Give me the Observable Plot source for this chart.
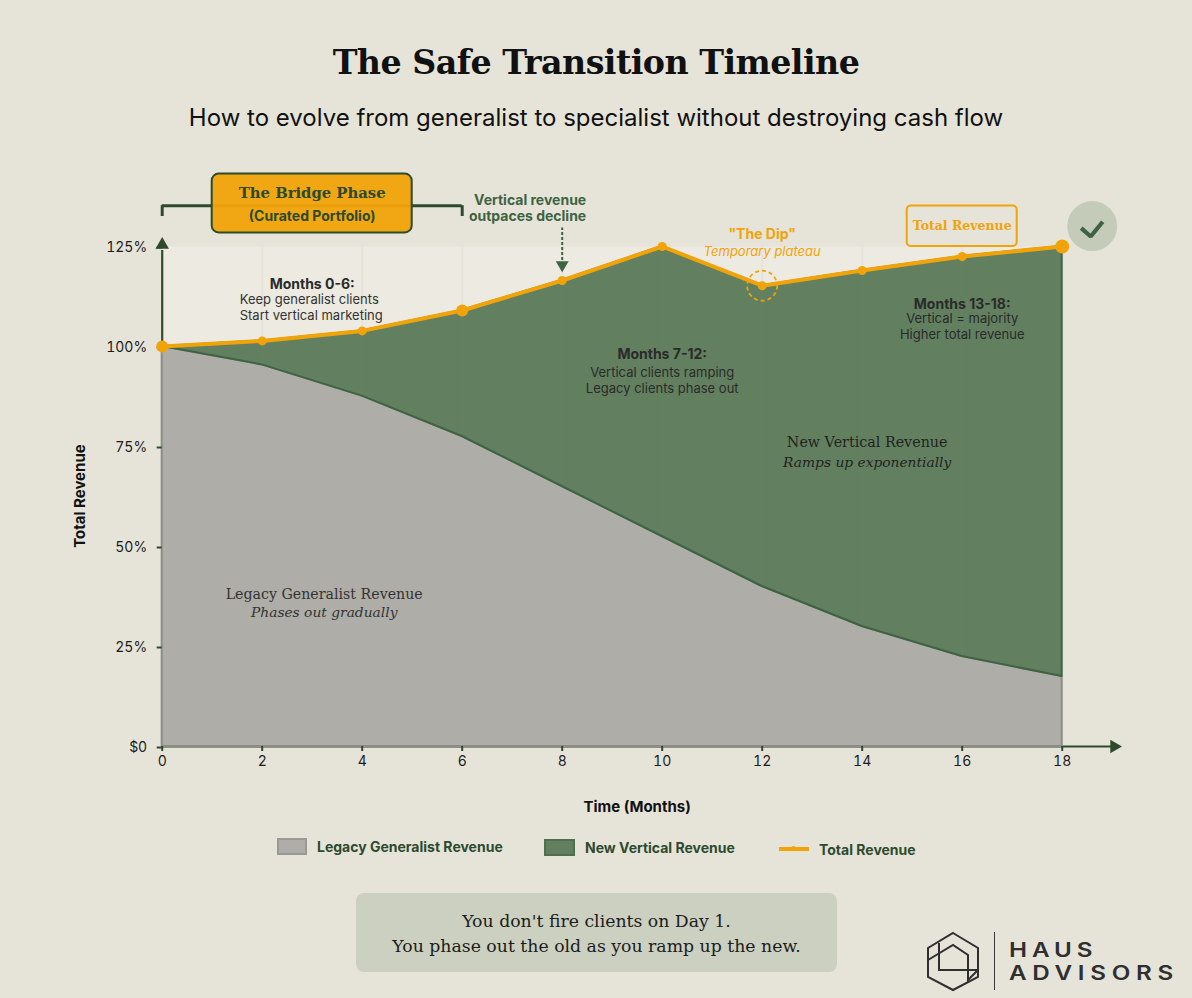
<!DOCTYPE html>
<html>
<head>
<meta charset="utf-8">
<script src="https://cdn.jsdelivr.net/npm/d3@7"></script>
<script src="https://cdn.jsdelivr.net/npm/@observablehq/plot@0.6"></script>
<style>
  html,body{margin:0;padding:0;background:#E6E4D9;}
  #page{position:relative;width:1192px;height:998px;overflow:hidden;font-family:Inter,sans-serif;}
  #page>*{position:absolute;}
  .abs{position:absolute;white-space:nowrap;}
  #title{left:0;width:1192px;top:39px;text-align:center;font:700 33.3px/48px "DejaVu Serif",serif;color:#111;letter-spacing:-.55px;}
  #subtitle{left:0;width:1192px;top:102px;text-align:center;font:400 24px/32px Inter,sans-serif;color:#111;}
  #chart{left:0;top:150px;}
  .swatch{box-sizing:border-box;border-width:2px;border-style:solid;}
  .lg{font:700 14px/16px Inter,sans-serif;color:#2D4A2D;}
  #callout{left:356px;top:893px;width:481px;height:79px;border-radius:8px;background:#CCD0C0;text-align:center;font:400 17.3px/25px "DejaVu Serif",serif;color:#1c1c1c;padding-top:15.5px;box-sizing:border-box;}
  .brand{font:600 19.5px/18px Inter,sans-serif;color:#2f2f2f;transform:scaleX(1.24);transform-origin:left center;}
</style>
</head>
<body>
<div id="page">
  <div id="title"></div>
  <div id="subtitle"></div>
  <div id="chart"></div>
  <div id="legend"></div>
  <div id="callout"></div>
  <svg id="logo" width="70" height="70" viewBox="920 926 70 70" style="left:920px;top:926px" fill="none" stroke="#2f2f2f" stroke-width="2">
    <path d="M953 933L978 948V977L953 990L928 977V948Z"/>
    <path d="M928 960L953 945L968 955V980L978 970"/>
    <path d="M939 943V970H978"/>
  </svg>
  <div class="abs" style="left:993.5px;top:932px;width:1.5px;height:58px;background:#3a3a3a"></div>
  <div class="abs brand" style="left:1009px;top:940.5px;letter-spacing:4px">HAUS</div>
  <div class="abs brand" style="left:1009px;top:964px;letter-spacing:4.6px">ADVISORS</div>
</div>
<script>
const titleText = "The Safe Transition Timeline";
const subtitleText = "How to evolve from generalist to specialist without destroying cash flow";
const months = [0, 2, 4, 6, 8, 10, 12, 14, 16, 18];
const legacyRevenue = [100, 95.4, 87.6, 77.5, 65, 52.5, 40, 30, 22.5, 17.5];
const totalRevenue = [100, 101.4, 103.9, 109, 116.5, 125, 115.2, 119, 122.5, 125];
const yTicks = [0, 25, 50, 75, 100, 125];
const seriesNames = ["Legacy Generalist Revenue", "New Vertical Revenue", "Total Revenue"];
const calloutLines = ["You don't fire clients on Day 1.", "You phase out the old as you ramp up the new."];

const BG = "#E6E4D9", PANEL = "#ECEAE1", GREEN = "#62805F", GREEN_D = "#3E6343",
      DARK = "#2D4A2D", GREY = "#AFADA7", GREY_D = "#8C8B88", ORANGE = "#F1A30A", INK = "#2a2a2a";
const SERIF = '"DejaVu Serif",serif', SANS = "Inter,sans-serif";

const rows = months.map((m, i) => ({month: m, legacy: legacyRevenue[i], total: totalRevenue[i]}));
const checkMark = [{x: 18.38, y: 129.6}, {x: 18.57, y: 127.5}, {x: 18.81, y: 131.2}];

document.getElementById("title").textContent = titleText;
document.getElementById("subtitle").textContent = subtitleText;
document.getElementById("callout").innerHTML = calloutLines.join("<br>");

const label = (text, x, y, o = {}) => Plot.text([text], {
  x: () => x, y: () => y, text: d => d, fontFamily: SANS, fontSize: 13, fill: INK, lineAnchor: "middle", ...o
});
const bold = {fontWeight: 700, fontSize: 14};

const plot = Plot.plot({
  width: 1192, height: 680,
  marginLeft: 161.7, marginRight: 130.3, marginTop: 96, marginBottom: 84,
  style: {background: "transparent", fontFamily: SANS, overflow: "visible"},
  x: {domain: [0, 18], label: null},
  y: {domain: [0, 125], label: null},
  marks: [
    Plot.frame({fill: PANEL, stroke: null}),
    // axis arrows
    Plot.ruleX([0], {y1: 0, y2: 124, stroke: DARK, strokeWidth: 2.2}),
    Plot.ruleY([0], {x1: 0, x2: 19, stroke: DARK, strokeWidth: 2.2}),
    Plot.dot([0], {x: 0, y: 125.4, symbol: "triangle", r: 5, fill: DARK}),
    Plot.dot([0], {x: 19.04, y: 0, symbol: "triangle", r: 5, fill: DARK, rotate: 90}),
    Plot.gridX(months, {stroke: "#6b6b5c", strokeOpacity: 0.04, strokeWidth: 2}),
    // stacked areas
    Plot.areaY(rows, {x: "month", y1: 0, y2: "legacy", fill: GREY, stroke: GREY_D, strokeWidth: 2}),
    Plot.areaY(rows, {x: "month", y1: "legacy", y2: "total", fill: GREEN, stroke: GREEN_D, strokeWidth: 2}),
    Plot.gridX(months, {stroke: "#fff", strokeOpacity: 0.012, strokeWidth: 2}),
    Plot.axisX(months, {anchor: "bottom", tickSize: 5, tickPadding: 5, stroke: DARK, strokeWidth: 2, fontSize: 14, fill: "#1c1c1c", fontFamily: SANS, label: null}),
    Plot.axisY(yTicks, {anchor: "left", tickSize: 5, tickPadding: 10, dy: 1, stroke: DARK, strokeWidth: 2, fontSize: 14, fill: "#1c1c1c", fontFamily: SANS, label: null,
      tickFormat: d => d === 0 ? "$0" : d + "%"}),
    label("Time (Months)", 9.5, -15.1, {fontWeight: 700, fontSize: 15, fill: "#111"}),
    label("Total Revenue", -1.64, 62.6, {fontWeight: 700, fontSize: 15, fill: "#111", rotate: -90}),
    // bracket and bridge box
    Plot.ruleY([135.2], {x1: 0, x2: 6, stroke: DARK, strokeWidth: 3}),
    Plot.ruleX([0, 6], {y1: 132.5, y2: 135.2, stroke: DARK, strokeWidth: 3}),
    Plot.rect([0], {x1: 1, x2: 5, y1: 128.4, y2: 143.1, fill: ORANGE, fillOpacity: 0.96, stroke: DARK, strokeWidth: 2, rx: 7}),
    label("The Bridge Phase", 3, 138.4, {fontFamily: SERIF, fontWeight: 700, fontSize: 14.8, fill: DARK}),
    label("(Curated Portfolio)", 3, 132.4, {fontWeight: 700, fontSize: 14, fill: DARK}),
    // annotation: crossover
    label("Vertical revenue", 8.48, 136.6, {...bold, fill: GREEN_D, textAnchor: "end"}),
    label("outpaces decline", 8.48, 132.4, {...bold, fill: GREEN_D, textAnchor: "end"}),
    Plot.ruleX([8], {y1: 121.5, y2: 129.6, stroke: GREEN_D, strokeWidth: 2, strokeDasharray: "3,2"}),
    Plot.dot([0], {x: 8, y: 120.4, symbol: "triangle", r: 4.8, fill: GREEN_D, rotate: 180}),
    // dip
    Plot.dot([0], {x: 12, y: 115.2, r: 15, stroke: ORANGE, strokeWidth: 1.8, strokeDasharray: "4,3", fill: "none"}),
    label('"The Dip"', 12, 127.9, {fontWeight: 700, fontSize: 14, fill: ORANGE}),
    label("Temporary plateau", 12, 123.6, {fontStyle: "italic", fontSize: 13, fill: ORANGE}),
    // total line
    Plot.line(rows, {x: "month", y: "total", stroke: ORANGE, strokeWidth: 4, curve: "linear"}),
    Plot.dot(rows, {x: "month", y: "total", r: 4.5, fill: ORANGE}),
    Plot.dot(rows.filter(d => d.month === 0 || d.month === 6), {x: "month", y: "total", r: 6, fill: ORANGE}),
    Plot.dot(rows.filter(d => d.month === 18), {x: "month", y: "total", r: 7, fill: ORANGE}),
    // total revenue label box
    Plot.rect([0], {x1: 14.9, x2: 17.1, y1: 125, y2: 135.1, fill: "none", stroke: ORANGE, strokeWidth: 2, rx: 4}),
    label("Total Revenue", 16, 130.1, {fontFamily: SERIF, fontWeight: 700, fontSize: 12.5, fill: ORANGE}),
    // check badge
    Plot.dot([0], {x: 18.6, y: 130.1, r: 25, fill: "#C5CBB9"}),
    Plot.line(checkMark, {x: "x", y: "y", stroke: GREEN_D, strokeWidth: 4.2, strokeLinejoin: "miter", strokeLinecap: "butt"}),
    // phase notes
    label("Months 0-6:", 3, 115.6, bold),
    label("Keep generalist clients", 1.55, 111.6, {textAnchor: "start", fill: "#333"}),
    label("Start vertical marketing", 1.55, 107.6, {textAnchor: "start", fill: "#333"}),
    label("Months 7-12:", 10, 98.1, bold),
    label("Vertical clients ramping", 10, 93.4),
    label("Legacy clients phase out", 10, 89.4),
    label("Months 13-18:", 16, 110.6, bold),
    label("Vertical = majority", 16, 106.9),
    label("Higher total revenue", 16, 102.9),
    // area names
    label("New Vertical Revenue", 14.1, 75.9, {fontFamily: SERIF, fontSize: 14.3, fill: "#222"}),
    label("Ramps up exponentially", 14.1, 71.1, {fontFamily: SERIF, fontSize: 13.8, fontStyle: "italic", fill: "#222"}),
    label("Legacy Generalist Revenue", 3.24, 38.1, {fontFamily: SERIF, fontSize: 14.2, fill: "#333"}),
    label("Phases out gradually", 3.24, 33.4, {fontFamily: SERIF, fontSize: 13.8, fontStyle: "italic", fill: "#333"})
  ]
});
document.getElementById("chart").appendChild(plot);

// legend
const legend = document.getElementById("legend");
const add = (html) => legend.insertAdjacentHTML("beforeend", html);
add(`<div class="abs swatch" style="left:277px;top:838px;width:30px;height:17px;background:${GREY};border-color:#999"></div>`);
add(`<div class="abs lg" style="left:317px;top:839px">${seriesNames[0]}</div>`);
add(`<div class="abs swatch" style="left:544px;top:839px;width:31px;height:17px;background:${GREEN};border-color:#4f7050"></div>`);
add(`<div class="abs lg" style="left:585px;top:840px">${seriesNames[1]}</div>`);
add(`<div class="abs" style="left:779px;top:847px;width:30px;height:3.5px;background:${ORANGE}"></div>`);
add(`<div class="abs" style="left:791px;top:846px;width:5px;height:5px;border-radius:50%;background:${ORANGE}"></div>`);
add(`<div class="abs lg" style="left:819px;top:842px">${seriesNames[2]}</div>`);
</script>
</body>
</html>
